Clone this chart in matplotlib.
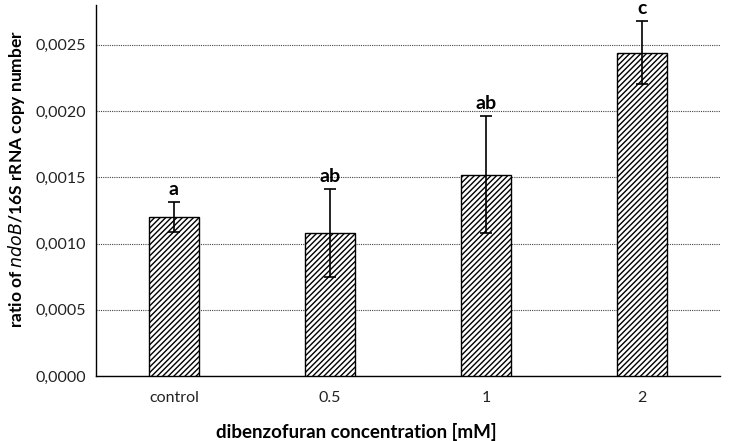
import matplotlib
matplotlib.use("Agg")
import matplotlib.pyplot as plt
from matplotlib.ticker import FuncFormatter

plt.rcParams["font.family"] = ["Lato", "DejaVu Sans"]
plt.rcParams["hatch.linewidth"] = 1.0

categories = ["control", "0.5", "1", "2"]
ratio = [0.00120, 0.00108, 0.00152, 0.00244]
err = [0.00011, 0.00033, 0.00044, 0.00024]
letters = ["a", "ab", "ab", "c"]

fig = plt.figure(figsize=(7.33, 4.41), dpi=100)
ax = fig.add_axes([0.131, 0.147, 0.851, 0.842])

x = range(len(categories))
ax.bar(x, ratio, width=0.32, color="white", edgecolor="black", linewidth=1.0,
       hatch="//////", zorder=3)
ax.errorbar(x, ratio, yerr=err, fmt="none", ecolor="black", elinewidth=1.2,
            capsize=4, capthick=1.2, zorder=4)
for xi, v, e, lab in zip(x, ratio, err, letters):
    ax.annotate(lab, (xi, v + e), xytext=(0, 3), textcoords="offset points",
                ha="center", va="bottom", fontsize=14, fontweight="bold")

ax.set_xlim(-0.5, 3.5)
ax.set_ylim(0, 0.0028)
ax.set_yticks([0, 0.0005, 0.0010, 0.0015, 0.0020, 0.0025])
ax.yaxis.set_major_formatter(FuncFormatter(lambda v, p: f"{v:.4f}".replace(".", ",")))
ax.set_xticks(list(x))
ax.set_xticklabels(categories)
ax.tick_params(axis="both", length=0, labelsize=11.5, colors="#222222")
ax.tick_params(axis="x", pad=11)
ax.tick_params(axis="y", pad=7)
ax.yaxis.grid(True, linestyle=(0, (1, 1)), color="#444444", linewidth=0.8, zorder=0)
ax.set_axisbelow(True)
for s in ["top", "right"]:
    ax.spines[s].set_visible(False)
ax.spines["left"].set_linewidth(1.0)
ax.spines["bottom"].set_linewidth(1.0)

ax.set_ylabel(r"ratio of $\bf{\it{ndoB}}$/16S rRNA copy number", fontsize=12.5,
              fontweight="bold")
ax.yaxis.set_label_coords(-0.11, 0.53)
ax.set_xlabel("dibenzofuran concentration [mM]", fontsize=13.5, fontweight="bold")
ax.xaxis.set_label_coords(0.418, -0.125)

fig.savefig("out.png", dpi=100)
